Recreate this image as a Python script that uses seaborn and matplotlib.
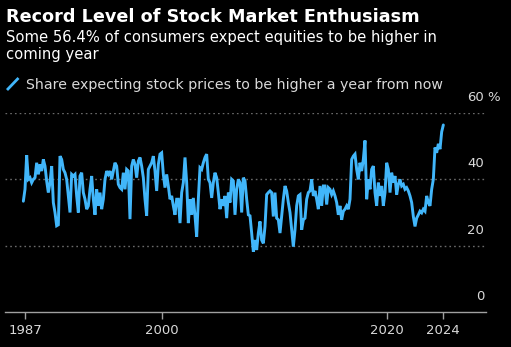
import numpy as np
import pandas as pd
import matplotlib
matplotlib.use("Agg")
import matplotlib.pyplot as plt
import matplotlib.transforms as mtransforms
from matplotlib.lines import Line2D
import seaborn as sns

# Share of consumers expecting stock prices to rise over the next year (%)
share_higher = [
    33.4, 37, 47.3, 40, 40.5, 39, 40, 40.5, 45, 41.5, 44.5, 42.5, 46, 44, 39.5, 36,
    39, 44, 33, 30, 26, 26.3, 47, 46, 43, 42, 40, 35, 30, 41.5, 41, 41.5, 35, 30,
    41, 42, 36, 34, 31, 32, 37, 41, 34, 29.3, 37, 32, 36, 31, 34, 40, 42.5, 41.5,
    42.5, 40, 42.5, 45, 44, 38.5, 37.5, 37, 42, 37, 43, 42.5, 28, 44, 46, 44.5,
    40.5, 45.5, 46.6, 44, 40.5, 34, 29, 43, 44, 45, 47, 42.5, 36.5, 44.5, 47.6, 48,
    41.5, 37.5, 41.5, 38, 34, 35, 32, 29.3, 34, 34, 26.8, 36, 39, 46.6, 39, 26.8,
    34, 29.3, 34.4, 29, 22.7, 34, 43.5, 43, 45, 46.6, 47.6, 40, 39, 34.4, 39, 42,
    40.5, 36, 31, 34, 32, 35, 28.3, 36, 33, 40, 39.5, 29.3, 37, 40, 39, 30, 40.5,
    39.5, 34, 29.3,
    29, 23.8, 18.2, 21.7, 18.7, 23.8, 27.3, 21.7, 20.7, 25.8, 35.4, 36, 36.5, 36,
    28.8, 36, 28.3, 27.8, 23.8, 28.8, 34, 38, 36.5, 33, 30, 24.8, 19.7, 24.8, 32,
    35, 35.4, 24.8, 27.8, 28.3, 34, 36, 36.5, 40, 35, 36.5, 34, 31, 38, 32, 38, 38,
    32.4, 37.5, 37, 35.4, 36.5, 35, 33, 29.3, 32, 27.8, 30.4, 31, 32, 31, 34, 46,
    47, 47.6, 43, 40, 45, 42.5, 46, 51.7, 34, 40, 37, 43, 44, 36, 32, 39, 35, 38,
    32, 36, 45, 43, 36, 42, 39, 41, 35.4, 38.5, 40, 38, 38.5, 37, 37.5, 36.5, 35,
    33, 28.8, 25.8, 28.3, 29.3, 30.4, 29.9, 31, 30.4, 35, 33, 32, 37, 40, 49.6,
    48, 50.7, 49.1, 54.3, 56.4,
]

year_labels = ["1987", "2000", "2020", "2024"]
year_obs = [1, 83, 218, len(share_higher) - 1]  # observation index of each label

y_ticks = [0, 20, 40, 60]

df = pd.DataFrame({"obs": np.arange(len(share_higher)), "share": share_higher})

BG = "#000000"
LINE = "#41b6fa"
GRID = "#6a6a6a"
TXT = "#d9d9d9"

sns.set_theme(style="dark", rc={
    "figure.facecolor": BG,
    "axes.facecolor": BG,
    "savefig.facecolor": BG,
})
plt.rcParams["font.family"] = ["DejaVu Sans"]

W, H = 511, 347
fig = plt.figure(figsize=(W / 100, H / 100), dpi=100)
left, right, bottom, top = 5, 486, 312, 113
ax = fig.add_axes([left / W, 1 - bottom / H, (right - left) / W, (bottom - top) / H])

sns.lineplot(data=df, x="obs", y="share", ax=ax, color=LINE, linewidth=2.1,
             solid_joinstyle="miter", zorder=3)

ax.set_xlim(-11, 277.6)
ax.set_ylim(0, 60)
ax.set_xlabel("")
ax.set_ylabel("")

# Dotted horizontal gridlines
for v in y_ticks[1:]:
    ax.axhline(v, color=GRID, linestyle=(0, (1.2, 2.2)), linewidth=1.0, zorder=1)

for s in ["top", "right", "left"]:
    ax.spines[s].set_visible(False)
ax.spines["bottom"].set_color("#a0a0a0")
ax.spines["bottom"].set_linewidth(1.0)

ax.set_yticks([])
ax.set_xticks(year_obs)
ax.set_xticklabels(year_labels)
ax.tick_params(axis="x", colors="#a0a0a0", length=5, width=1.0, pad=4,
               labelsize=9.5, labelcolor=TXT, bottom=True)

# Value labels at the right, sitting above each gridline
lab_tf = mtransforms.blended_transform_factory(ax.transAxes, ax.transData)
lab_tf = lab_tf + mtransforms.ScaledTranslation(-0.02, 0.09, fig.dpi_scale_trans)
for v in y_ticks:
    t = ax.text(1.0, v, f"{v}", transform=lab_tf, ha="right", va="bottom",
                fontsize=9.5, color=TXT)
    if v == y_ticks[-1]:
        ax.annotate("%", xy=(1, 0), xycoords=t, xytext=(2.5, 0),
                    textcoords="offset points", ha="left", va="bottom",
                    fontsize=9.5, color=TXT)

# Headline, subtitle and legend
fig.text(6 / W, 1 - 22 / H, "Record Level of Stock Market Enthusiasm",
         fontsize=12.7, fontweight="bold", color="white", va="baseline")
fig.text(6 / W, 1 - 42 / H, "Some 56.4% of consumers expect equities to be higher in",
         fontsize=10.6, color="white", va="baseline")
fig.text(6 / W, 1 - 58.5 / H, "coming year",
         fontsize=10.6, color="white", va="baseline")

fig.add_artist(Line2D([7 / W, 18.5 / W], [1 - 90 / H, 1 - 78 / H],
                      transform=fig.transFigure, color=LINE, linewidth=2.0,
                      solid_capstyle="butt"))
fig.text(26 / W, 1 - 89.5 / H,
         "Share expecting stock prices to be higher a year from now",
         fontsize=10.2, color=TXT, va="baseline")

fig.savefig("out.png", dpi=100, facecolor=BG)
